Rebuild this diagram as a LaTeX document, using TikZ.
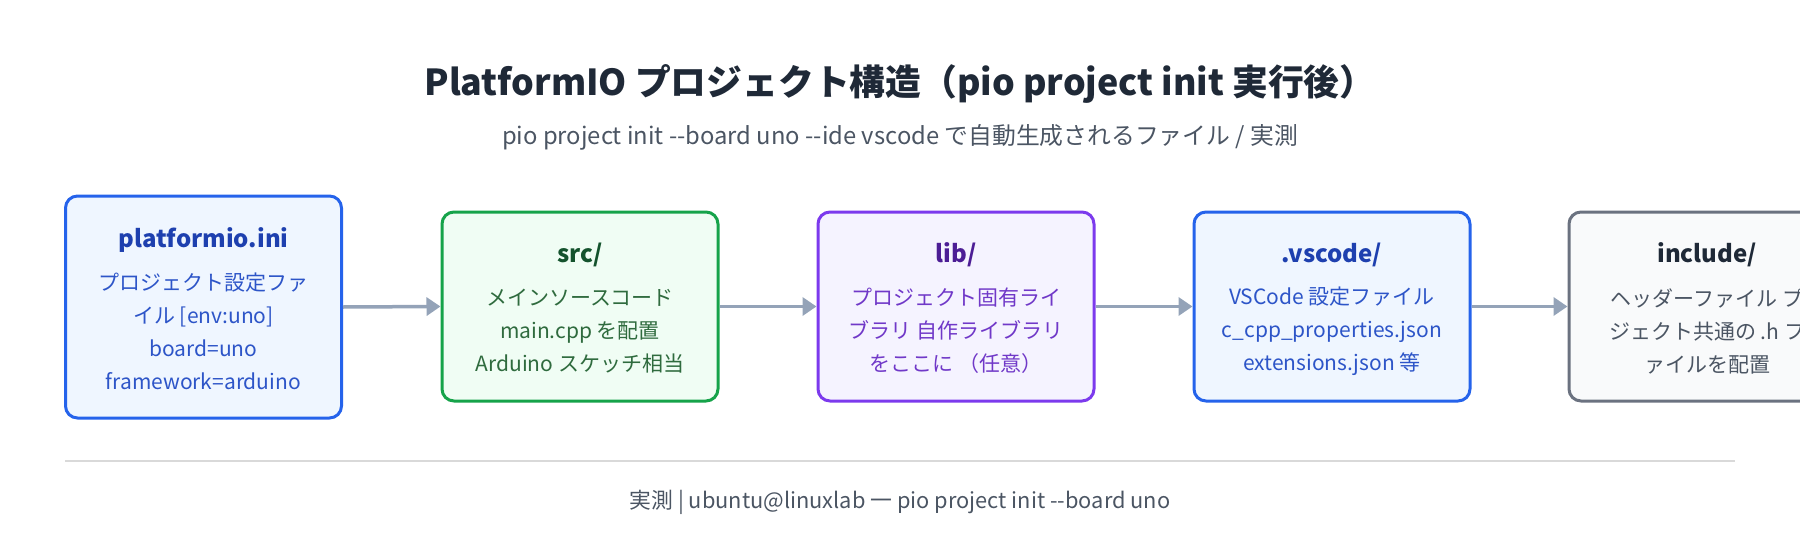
\documentclass[tikz,border=0pt]{standalone}
\usepackage{fontspec}
\setmainfont{Noto Sans CJK JP}
\usetikzlibrary{arrows.meta}
\newcommand{\bdyfont}{\fontsize{21}{33}\selectfont\setlength{\lineskiplimit}{-20pt}}
\definecolor{bA}{HTML}{2563EB}\definecolor{fA}{HTML}{EFF6FF}\definecolor{tA}{HTML}{1E40AF}\definecolor{xA}{HTML}{2D55C8}
\definecolor{bB}{HTML}{16A34A}\definecolor{fB}{HTML}{F0FDF4}\definecolor{tB}{HTML}{14532D}\definecolor{xB}{HTML}{2F6B3E}
\definecolor{bC}{HTML}{7C3AED}\definecolor{fC}{HTML}{F5F3FF}\definecolor{tC}{HTML}{4C1D95}\definecolor{xC}{HTML}{7038C8}
\definecolor{bE}{HTML}{6B7280}\definecolor{fE}{HTML}{F9FAFB}\definecolor{tE}{HTML}{1F2937}\definecolor{xE}{HTML}{4B5563}
\definecolor{arr}{HTML}{94A3B8}
\begin{document}
\begin{tikzpicture}[x=1pt,y=-1pt,
 box/.style={draw=#1,line width=3pt,rounded corners=12pt,minimum width=276pt,inner sep=0pt},
 ttl/.style={font=\fontsize{24}{28}\selectfont\bfseries},
 bdy/.style={font=\bdyfont,align=center},
 con/.style={draw=arr,line width=3.5pt,-{Triangle[length=14pt,width=18pt]}}]
\useasboundingbox (0,0) rectangle (1800,554);
\clip (0,0) rectangle (1800,554);
\node[font=\fontsize{35.8}{40}\selectfont\bfseries,text=tE] (title) at (900,84) {PlatformIO プロジェクト構造（pio project init 実行後）};
\node[font=\fontsize{23.8}{28}\selectfont,text=xE] (sub) at (900,137) {pio project init {-}{-}board uno {-}{-}ide vscode で自動生成されるファイル / 実測};
\node[box=bA,fill=fA,minimum height=222pt] (b1) at (203.5,307) {};
\node[box=bB,fill=fB,minimum height=189pt] (b2) at (580,306.5) {};
\node[box=bC,fill=fC,minimum height=189pt] (b3) at (956,306.5) {};
\node[box=bA,fill=fA,minimum height=189pt] (b4) at (1332,306.5) {};
\node[box=bE,fill=fE,minimum height=189pt] (b5) at (1707,306.5) {};
\node[ttl,text=tA] (t1) at (203.5,240) {platformio.ini};
\node[bdy,text=xA] (d1) at (203.5,331) {プロジェクト設定ファ\\イル [env:uno]\\board=uno\\framework=arduino};
\node[ttl,text=tB] (t2) at (580,255) {src/};
\node[bdy,text=xB] (d2) at (580,331) {メインソースコード\\main.cpp を配置\\Arduino スケッチ相当};
\node[ttl,text=tC] (t3) at (956,255) {lib/};
\node[bdy,text=xC] (d3) at (956,331) {プロジェクト固有ライ\\ブラリ 自作ライブラリ\\をここに （任意）};
\node[ttl,text=tA] (t4) at (1332,255) {.vscode/};
\node[bdy,text=xA] (d4) at (1332,331) {VSCode 設定ファイル\\c\_cpp\_properties.json\\extensions.json 等};
\node[ttl,text=tE] (t5) at (1707,255) {include/};
\node[bdy,text=xE] (d5) at (1707,331) {ヘッダーファイル プ\\ジェクト共通の .h フ\\ァイルを配置};
\draw[con] (b1.east) -- (b2.west);
\draw[con] (b2.east) -- (b3.west);
\draw[con] (b3.east) -- (b4.west);
\draw[con] (b4.east) -- (b5.west);
\coordinate (s1) at (65,461); \coordinate (s2) at (1735,461);
\draw[draw=black!15,line width=1.2pt] (s1) -- (s2);
\node[font=\fontsize{21.8}{26}\selectfont,text=xE] (foot) at (900,502) {実測 | ubuntu@linuxlab 一 pio project init {-}{-}board uno};
\end{tikzpicture}
\end{document}
